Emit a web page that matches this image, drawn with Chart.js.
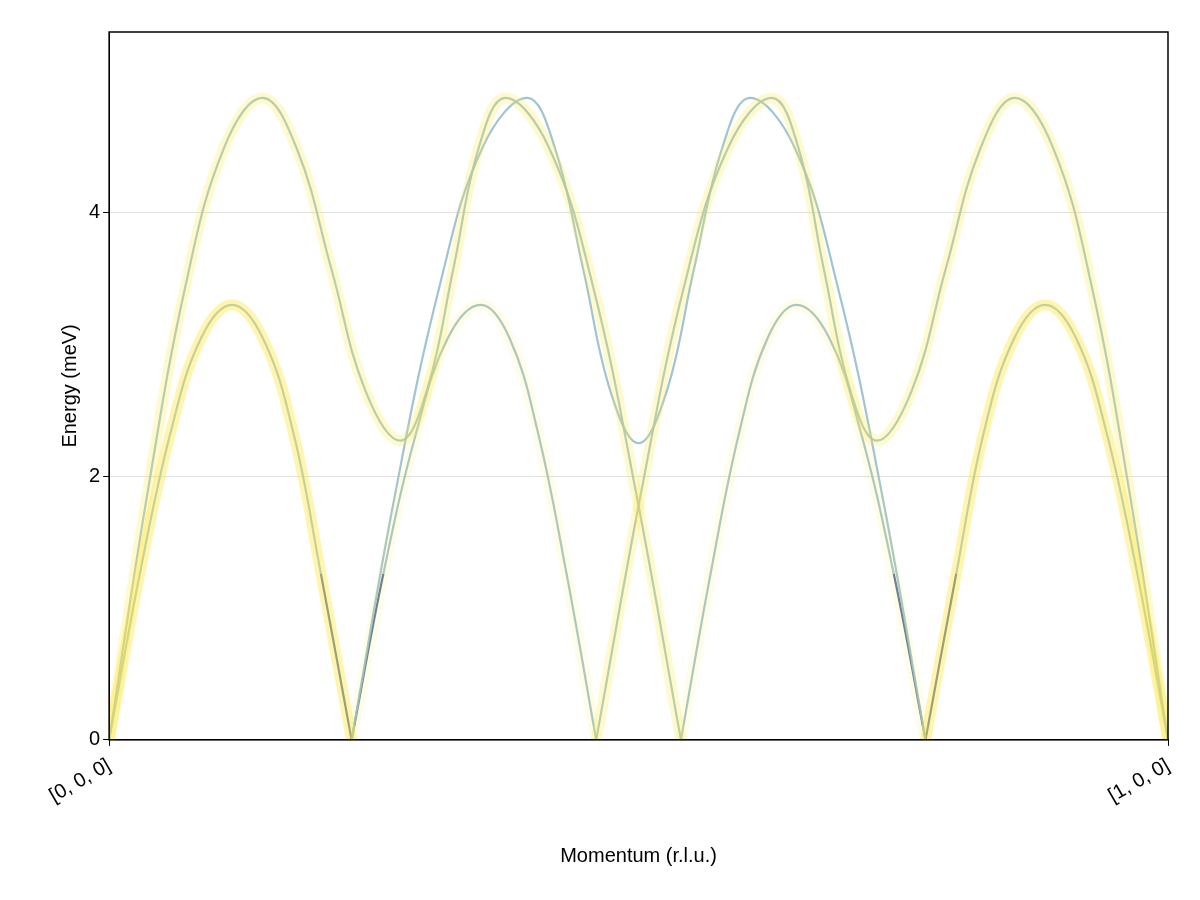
<!DOCTYPE html>
<html>
<head>
<meta charset="utf-8">
<script src="https://cdn.jsdelivr.net/npm/chart.js@4/dist/chart.umd.min.js"></script>
<style>
  html, body { margin: 0; padding: 0; background: #fff; }
  #wrap { width: 1200px; height: 900px; }
</style>
</head>
<body>
<div id="wrap"><canvas id="c" width="1200" height="900"></canvas></div>
<script>
// band points: [momentum, energy]
const bandA = [[0, 0], [0.036, 1.86], [0.072, 3.44], [0.109, 4.5], [0.145, 4.87], [0.177, 4.49], [0.21, 3.57], [0.242, 2.65], [0.275, 2.27],
    [0.30, 2.65], [0.325, 3.57], [0.349, 4.49], [0.374, 4.87], [0.415, 4.5], [0.457, 3.44], [0.498, 1.86], [0.54, 0]];
const bandAm = [[1, 0], [0.964, 1.86], [0.928, 3.44], [0.891, 4.5], [0.855, 4.87], [0.823, 4.49], [0.79, 3.57], [0.758, 2.65], [0.725, 2.27],
    [0.70, 2.65], [0.675, 3.57], [0.651, 4.49], [0.626, 4.87], [0.585, 4.5], [0.543, 3.44], [0.502, 1.86], [0.46, 0]];
const bandB = [[0.229, 0], [0.27, 1.86], [0.312, 3.44], [0.353, 4.5], [0.395, 4.87], [0.421, 4.49], [0.448, 3.56], [0.474, 2.63], [0.5, 2.25],
    [0.526, 2.63], [0.552, 3.56], [0.579, 4.49], [0.605, 4.87], [0.647, 4.5], [0.688, 3.44], [0.73, 1.86], [0.771, 0]];
const bandL1 = [[0, 0], [0.029, 1.26], [0.058, 2.33], [0.087, 3.05], [0.116, 3.3], [0.145, 3.05], [0.174, 2.33], [0.2, 1.26], [0.229, 0],
    [0.259, 1.26], [0.29, 2.33], [0.32, 3.05], [0.351, 3.3], [0.378, 3.05], [0.405, 2.33], [0.432, 1.26], [0.46, 0]];
const bandL2 = [[1, 0], [0.971, 1.26], [0.942, 2.33], [0.913, 3.05], [0.884, 3.3], [0.855, 3.05], [0.826, 2.33], [0.8, 1.26], [0.771, 0],
    [0.741, 1.26], [0.71, 2.33], [0.68, 3.05], [0.649, 3.3], [0.622, 3.05], [0.595, 2.33], [0.568, 1.26], [0.54, 0]];
// strength of the yellow intensity glow on each zero-to-zero piece of a band
const glowA = [0.25];
const glowL = [0.4, 0.12];
const darkCusps = [0.229, 0.771];
const xTickValues = [0, 1];
const xTickLabels = ["[0, 0, 0]", "[1, 0, 0]"];
const yTickValues = [0, 2, 4];

// split a band at its zeros so the cusps stay sharp
function splitAtZeros(points) {
    const parts = [];
    let cur = [];
    points.forEach((p, i) => {
        cur.push({ x: p[0], y: p[1] });
        if (i > 0 && p[1] === 0) {
            parts.push(cur);
            cur = [{ x: p[0], y: p[1] }];
        }
    });
    if (cur.length > 1) parts.push(cur);
    return parts;
}

const glowSets = [];
const lineSets = [];
function addBand(points, glow) {
    splitAtZeros(points).forEach((seg, k) => {
        const g = glow[Math.min(k, glow.length - 1)];
        if (g > 0) {
            glowSets.push({ data: seg, borderColor: `rgba(255, 230, 60, ${g})`, borderWidth: 11, tension: 0.4, pointRadius: 0, showLine: true });
        }
        lineSets.push({
            data: seg, borderColor: "rgba(150, 190, 205, 0.9)", borderWidth: 2.2, tension: 0.4, pointRadius: 0, showLine: true,
            segment: {
                borderColor: ctx => (glow === glowL && (darkCusps.includes(ctx.p0.parsed.x) || darkCusps.includes(ctx.p1.parsed.x)))
                    ? "rgba(70, 100, 150, 0.9)" : undefined
            }
        });
    });
}
addBand(bandB, [0]);
addBand(bandA, glowA);
addBand(bandAm, glowA);
addBand(bandL1, glowL);
addBand(bandL2, glowL);

const frame = {
    id: "frame",
    afterDraw(chart) {
        const a = chart.chartArea, c = chart.ctx;
        c.save();
        c.strokeStyle = "#000";
        c.lineWidth = 1.5;
        c.strokeRect(a.left, a.top, a.right - a.left, a.bottom - a.top);
        c.restore();
    }
};

const font = { family: "'Liberation Sans', Arial, sans-serif", size: 20 };
new Chart(document.getElementById("c"), {
    type: "scatter",
    data: { datasets: glowSets.concat(lineSets) },
    plugins: [frame],
    options: {
        responsive: false,
        animation: false,
        layout: { padding: { left: 54, right: 32, top: 32, bottom: 28 } },
        plugins: { legend: { display: false }, tooltip: { enabled: false } },
        scales: {
            x: {
                type: "linear", min: 0, max: 1,
                afterBuildTicks: axis => { axis.ticks = xTickValues.map(v => ({ value: v })); },
                ticks: { font, color: "#000", padding: 8, minRotation: 30, maxRotation: 30, callback: v => xTickLabels[xTickValues.indexOf(v)] },
                grid: { drawOnChartArea: false, tickLength: 6, color: "#000" },
                border: { color: "#000" },
                title: { display: true, text: "Momentum (r.l.u.)", font, color: "#000", padding: { top: 28, bottom: 4 } }
            },
            y: {
                type: "linear", min: 0, max: 5.37,
                afterBuildTicks: axis => { axis.ticks = yTickValues.map(v => ({ value: v })); },
                ticks: { font, color: "#000" },
                grid: { color: "rgba(0,0,0,0.12)", tickColor: "#000", tickLength: 6 },
                border: { color: "#000" },
                title: { display: true, text: "Energy (meV)", font, color: "#000" }
            }
        }
    }
});
</script>
</body>
</html>
